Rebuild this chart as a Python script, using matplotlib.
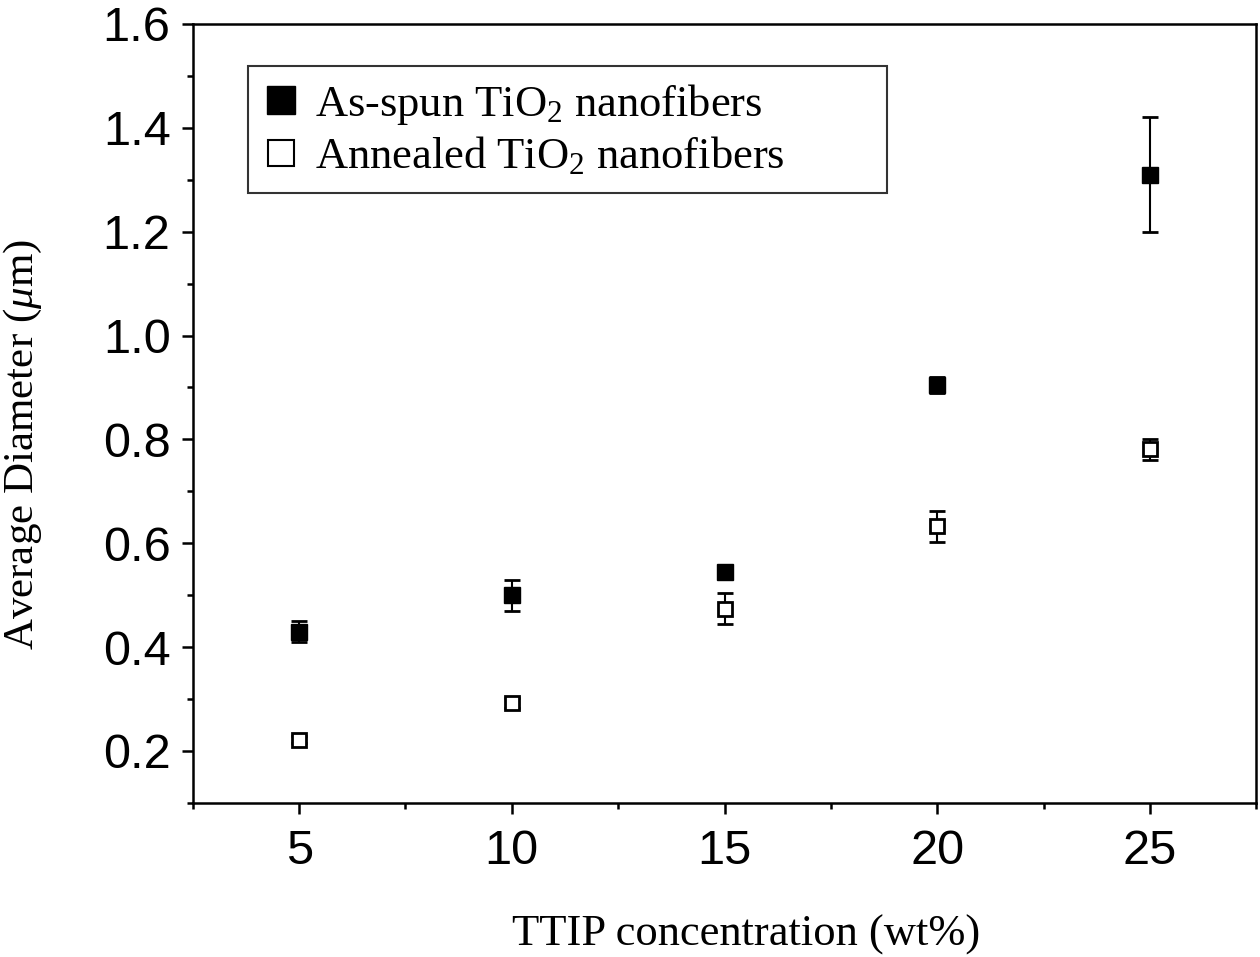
import matplotlib
matplotlib.use("Agg")
import matplotlib.pyplot as plt
from matplotlib.ticker import MultipleLocator
from matplotlib.lines import Line2D

plt.rcParams['mathtext.fontset'] = 'custom'
plt.rcParams['mathtext.rm'] = 'Liberation Serif'
plt.rcParams['mathtext.it'] = 'Liberation Serif:italic'

# TTIP concentration (wt%)
conc = [5, 10, 15, 20, 25]

# as-spun fibers
asspun = [0.43, 0.50, 0.545, 0.905, 1.31]
asspun_err = [0.02, 0.03, 0.012, 0.015, 0.11]

# annealed fibers
annealed = [0.222, 0.292, 0.474, 0.633, 0.781]
annealed_err = [0.006, 0.01, 0.03, 0.03, 0.02]

fig = plt.figure(figsize=(12.6, 9.57), dpi=100)
ax = fig.add_axes([0.153, 0.161, 0.844, 0.814])

ax.errorbar(conc, asspun, yerr=asspun_err, fmt='s', color='black',
            mfc='black', mec='black', ms=11, capsize=6, elinewidth=1.5,
            capthick=2)
ax.errorbar(conc, annealed, yerr=annealed_err, fmt='s', color='black',
            mfc='white', mec='black', ms=10, mew=2, capsize=6, elinewidth=1.5,
            capthick=2)

ax.set_xlim(2.5, 27.5)
ax.set_ylim(0.1, 1.6)
ax.xaxis.set_major_locator(MultipleLocator(5))
ax.xaxis.set_minor_locator(MultipleLocator(2.5))
ax.yaxis.set_minor_locator(MultipleLocator(0.1))
ax.set_yticks([0.2, 0.4, 0.6, 0.8, 1.0, 1.2, 1.4, 1.6])
ax.set_yticklabels(['0.2', '0.4', '0.6', '0.8', '1.0', '1.2', '1.4', '1.6'])

ax.tick_params(which='major', direction='out', length=8, width=1.8,
               labelsize=35, pad=8)
ax.tick_params(axis='x', which='major', pad=11)
ax.tick_params(which='minor', direction='out', length=4.5, width=1.8)
for lab in ax.get_xticklabels() + ax.get_yticklabels():
    lab.set_fontfamily('Liberation Sans')
for s in ax.spines.values():
    s.set_linewidth(1.8)

ax.set_xlabel('TTIP concentration (wt%)', fontsize=32,
              fontfamily='Liberation Serif', labelpad=29)
ax.xaxis.label.set_x(0.52)
ax.set_ylabel(r'Average Diameter ($\mathit{\mu}$m)', fontsize=31,
              fontfamily='Liberation Serif', labelpad=42)
ax.yaxis.label.set_y(0.46)

handles = [Line2D([], [], ls='none', marker='s', ms=20, mfc='black', mec='black'),
           Line2D([], [], ls='none', marker='s', ms=19, mfc='white', mec='black', mew=1.5)]
labels = [r'As-spun TiO$_2$ nanofibers', r'Annealed TiO$_2$ nanofibers']
leg = ax.legend(handles, labels, loc='upper left',
                bbox_to_anchor=(0.052, 0.746, 0.601, 0.2), mode='expand',
                borderaxespad=0, prop={'family': 'Liberation Serif', 'size': 32},
                frameon=True, fancybox=False, handlelength=0.8,
                handletextpad=0.35, borderpad=0.35, labelspacing=0.2)
leg.get_frame().set_edgecolor('black')
leg.get_frame().set_linewidth(1.5)

fig.savefig('out.png', dpi=100)
